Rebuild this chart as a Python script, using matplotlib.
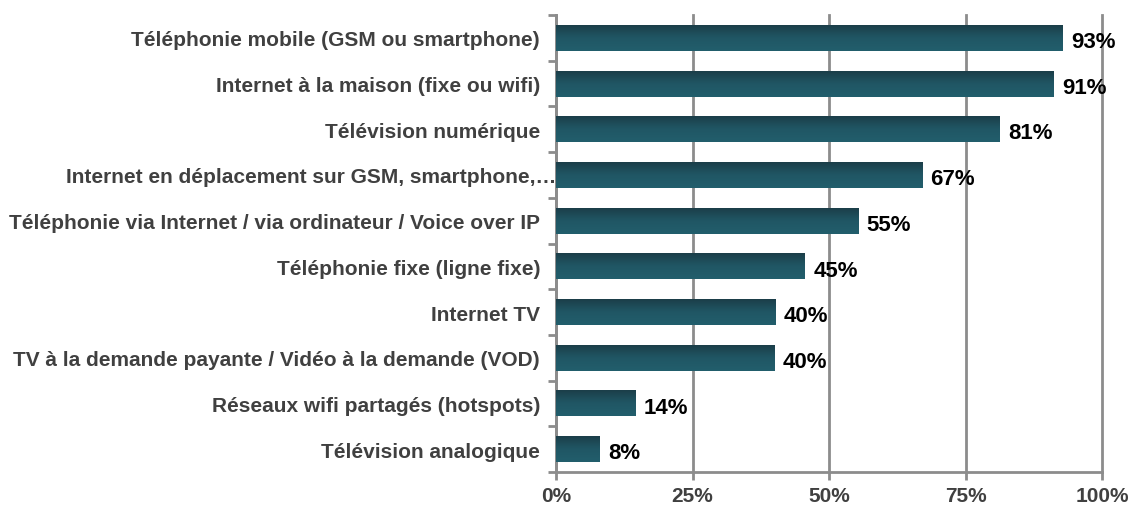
import numpy as np
import matplotlib
matplotlib.use('Agg')
import matplotlib.pyplot as plt
from matplotlib.colors import LinearSegmentedColormap
from matplotlib.transforms import ScaledTranslation

categories = ['Téléphonie mobile (GSM ou smartphone)',
              'Internet à la maison (fixe ou wifi)',
              'Télévision numérique',
              'Internet en déplacement sur GSM, smartphone,…',
              'Téléphonie via Internet / via ordinateur / Voice over IP',
              'Téléphonie fixe (ligne fixe)',
              'Internet TV',
              'TV à la demande payante / Vidéo à la demande (VOD)',
              'Réseaux wifi partagés (hotspots)',
              'Télévision analogique']
values = [92.8, 91.2, 81.3, 67.1, 55.4, 45.6, 40.2, 40.0, 14.5, 8.0]
value_labels = ['93%', '91%', '81%', '67%', '55%', '45%', '40%', '40%', '14%', '8%']
xticks = [0, 25, 50, 75, 100]
xtick_labels = ['0%', '25%', '50%', '75%', '100%']

plt.rcParams['font.family'] = ['Liberation Sans', 'DejaVu Sans']

fig = plt.figure(figsize=(11.32, 5.06), dpi=100)
ax = fig.add_axes([556/1132, 1-473/506, 546/1132, 457/506])

ypos = np.arange(len(categories))
bars = ax.barh(ypos, values, height=0.57, color='#1f4d5a', zorder=3)

# vertical gradient inside each bar
cmap = LinearSegmentedColormap.from_list('bar', ['#1b3c47', '#205664', '#225e6c'])
grad = np.linspace(0, 1, 64).reshape(-1, 1)
for b in bars:
    x0, y0 = b.get_x(), b.get_y()
    im = ax.imshow(grad, cmap=cmap, aspect='auto', origin='upper',
                   extent=(x0, x0 + b.get_width(), y0 + b.get_height(), y0),
                   zorder=4)
    im.set_clip_path(b)

for v, lab, y in zip(values, value_labels, ypos):
    ax.text(v + 1.5, y + 0.08, lab, va='center', ha='left', fontsize=16,
            fontweight='bold', color='black', zorder=5)

ax.set_xlim(0, 100)
ax.set_ylim(len(categories) - 0.5, -0.5)
ax.set_xticks(xticks)
ax.set_xticklabels(xtick_labels, fontsize=15, fontweight='bold', color='#404040')
ax.set_yticks(ypos)
ax.set_yticklabels(categories, fontsize=15, fontweight='bold', color='#404040')
ax.set_yticks(np.arange(-0.5, len(categories)), minor=True)
ax.tick_params(axis='y', which='major', length=0, pad=11.5)
ax.tick_params(axis='y', which='minor', length=6, width=2, color='#8c8c8c', direction='out')
ax.tick_params(axis='x', which='major', length=6, width=2, color='#8c8c8c', pad=4)

# the truncated label runs right up to the axis
lbl = ax.get_yticklabels()[3]
lbl.set_transform(lbl.get_transform() + ScaledTranslation(16/100, 0, fig.dpi_scale_trans))

ax.grid(axis='x', color='#8c8c8c', linewidth=2, zorder=0)
for gl in ax.xaxis.get_gridlines():
    gl.set_clip_on(False)
for s in ['top', 'right']:
    ax.spines[s].set_visible(False)
for s in ['left', 'bottom']:
    ax.spines[s].set_color('#8c8c8c')
    ax.spines[s].set_linewidth(2)

plt.savefig('out.png', dpi=100)
